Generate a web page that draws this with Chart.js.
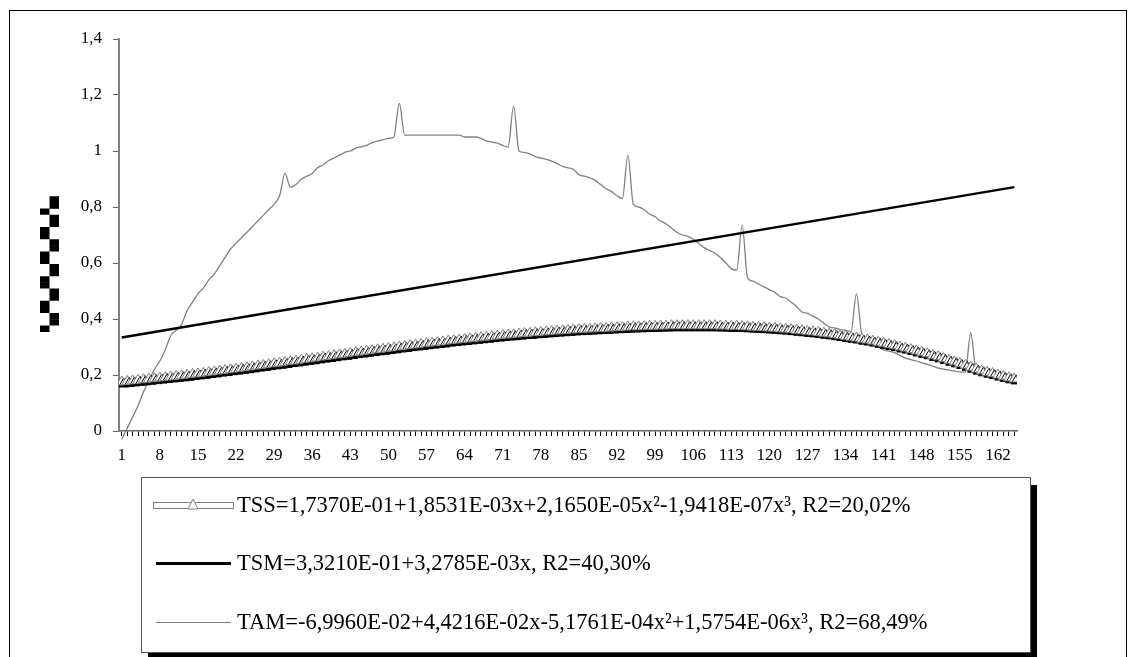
<!DOCTYPE html>
<html>
<head>
<meta charset="utf-8">
<script src="https://cdn.jsdelivr.net/npm/chart.js@4.4.1/dist/chart.umd.min.js"></script>
<style>
  body { margin: 0; background: #fff; }
  canvas { display: block; }
</style>
</head>
<body>
<canvas id="chart" width="1137" height="657"></canvas>
<script>
// values, one per day (1..165)
const tssValues = [
  0.175, 0.177, 0.179, 0.181, 0.183, 0.185, 0.187, 0.189, 0.191, 0.193,
  0.195, 0.197, 0.199, 0.202, 0.204, 0.206, 0.209, 0.211, 0.214, 0.216,
  0.219, 0.221, 0.224, 0.226, 0.229, 0.232, 0.234, 0.237, 0.240, 0.242,
  0.245, 0.248, 0.250, 0.253, 0.256, 0.258, 0.261, 0.264, 0.266, 0.269,
  0.272, 0.274, 0.277, 0.280, 0.282, 0.285, 0.287, 0.290, 0.292, 0.295,
  0.297, 0.300, 0.302, 0.305, 0.307, 0.309, 0.312, 0.314, 0.316, 0.318,
  0.321, 0.323, 0.325, 0.327, 0.329, 0.331, 0.333, 0.335, 0.337, 0.339,
  0.341, 0.343, 0.344, 0.346, 0.348, 0.349, 0.351, 0.352, 0.354, 0.355,
  0.357, 0.358, 0.359, 0.361, 0.362, 0.363, 0.364, 0.365, 0.366, 0.367,
  0.368, 0.369, 0.370, 0.371, 0.372, 0.372, 0.373, 0.374, 0.374, 0.375,
  0.375, 0.376, 0.376, 0.376, 0.376, 0.376, 0.376, 0.376, 0.376, 0.376,
  0.375, 0.375, 0.374, 0.374, 0.373, 0.372, 0.371, 0.370, 0.369, 0.368,
  0.367, 0.365, 0.364, 0.362, 0.360, 0.358, 0.356, 0.354, 0.352, 0.349,
  0.347, 0.344, 0.341, 0.338, 0.335, 0.332, 0.328, 0.325, 0.321, 0.317,
  0.313, 0.309, 0.305, 0.300, 0.296, 0.291, 0.286, 0.281, 0.276, 0.270,
  0.265, 0.259, 0.253, 0.247, 0.241, 0.235, 0.228, 0.221, 0.215, 0.210,
  0.205, 0.200, 0.195, 0.190, 0.186
];

// straight line, only its two ends are read
const tsmX = [1, 165];
const tsmValues = [0.334, 0.871];

const tamValues = [
  -0.03, 0.01, 0.05, 0.09, 0.14, 0.18, 0.22, 0.25, 0.29, 0.34,
  0.36, 0.38, 0.43, 0.46, 0.49, 0.51, 0.54, 0.56, 0.59, 0.62,
  0.65, 0.67, 0.69, 0.71, 0.73, 0.75, 0.77, 0.79, 0.81, 0.84,
  0.92, 0.87, 0.88, 0.90, 0.91, 0.92, 0.94, 0.95, 0.965, 0.975,
  0.985, 0.995, 1.0, 1.01, 1.015, 1.02, 1.03, 1.035, 1.04, 1.045,
  1.05, 1.17, 1.057, 1.057, 1.057, 1.057, 1.057, 1.057, 1.057, 1.057,
  1.057, 1.057, 1.057, 1.05, 1.05, 1.05, 1.045, 1.036, 1.032, 1.028,
  1.02, 1.014, 1.16, 1.0, 0.995, 0.99, 0.98, 0.975, 0.97, 0.964,
  0.955, 0.945, 0.94, 0.935, 0.915, 0.91, 0.904, 0.895, 0.88, 0.865,
  0.855, 0.84, 0.83, 0.985, 0.81, 0.80, 0.79, 0.775, 0.765, 0.75,
  0.74, 0.725, 0.71, 0.70, 0.695, 0.685, 0.67, 0.655, 0.645, 0.635,
  0.62, 0.60, 0.58, 0.575, 0.735, 0.546, 0.535, 0.525, 0.515, 0.505,
  0.495, 0.48, 0.475, 0.46, 0.445, 0.425, 0.42, 0.41, 0.40, 0.385,
  0.372, 0.368, 0.362, 0.36, 0.355, 0.49, 0.345, 0.33, 0.315, 0.30,
  0.29, 0.285, 0.28, 0.27, 0.26, 0.255, 0.25, 0.243, 0.238, 0.232,
  0.225, 0.221, 0.218, 0.214, 0.211, 0.21, 0.35, 0.215, 0.21, 0.205,
  0.20, 0.195, 0.19, 0.185, 0.18
];

const seriesNames = [
  'TSS=1,7370E-01+1,8531E-03x+2,1650E-05x²-1,9418E-07x³, R2=20,02%',
  'TSM=3,3210E-01+3,2785E-03x, R2=40,30%',
  'TAM=-6,9960E-02+4,4216E-02x-5,1761E-04x²+1,5754E-06x³, R2=68,49%'
];

const xTickLabels = [1, 8, 15, 22, 29, 36, 43, 50, 57, 64, 71, 78, 85, 92, 99,
  106, 113, 120, 127, 134, 141, 148, 155, 162];
const yTickLabels = ['0', '0,2', '0,4', '0,6', '0,8', '1', '1,2', '1,4'];
const yAxisTitle = '▚▞▚▞▚▞▚▞▚▞▄';

const SERIF = '"Liberation Serif", "Times New Roman", serif';

const toPoints = vals => vals.map((v, i) => ({ x: i + 1, y: v }));

// outer frame and white background
const framePlugin = {
  id: 'frame',
  beforeDraw(chart) {
    const ctx = chart.ctx;
    ctx.save();
    ctx.fillStyle = '#fff';
    ctx.fillRect(0, 0, chart.width, chart.height);
    ctx.strokeStyle = '#000';
    ctx.lineWidth = 1;
    ctx.strokeRect(9.5, 10.5, 1117, 700);
    ctx.restore();
  },
  afterDraw(chart) {
    // the y axis title (unreadable in the source)
    const ctx = chart.ctx;
    ctx.save();
    ctx.translate(51, 264);
    ctx.rotate(-Math.PI / 2);
    ctx.font = 'bold 16px "DejaVu Sans"';
    ctx.fillStyle = '#000';
    ctx.textAlign = 'center';
    ctx.textBaseline = 'middle';
    ctx.fillText(yAxisTitle, 0, 0);
    ctx.restore();
  }
};

// black drop shadow on the TSS markers, like the source
const shadowPlugin = {
  id: 'shadow',
  beforeDatasetDraw(chart, args) {
    if (args.index !== 0) return;
    const ctx = chart.ctx;
    ctx.save();
    ctx.shadowColor = '#000';
    ctx.shadowOffsetX = 2;
    ctx.shadowOffsetY = 2;
    ctx.shadowBlur = 0;
  },
  afterDatasetDraw(chart, args) {
    if (args.index !== 0) return;
    chart.ctx.restore();
  }
};

// boxed legend with a shadow below the plot
const legendPlugin = {
  id: 'boxLegend',
  afterDraw(chart) {
    const ctx = chart.ctx;
    const bx = 141, by = 477, bw = 889, bh = 175;
    ctx.save();
    ctx.fillStyle = '#000';
    ctx.fillRect(bx + 7, by + 8, bw, bh);
    ctx.fillStyle = '#fff';
    ctx.fillRect(bx, by, bw, bh);
    ctx.strokeStyle = '#555';
    ctx.lineWidth = 1;
    ctx.strokeRect(bx + 0.5, by + 0.5, bw, bh);

    const rows = [505, 563, 622];
    const ds = chart.data.datasets;
    // TSS sample: hollow bar with a triangle
    ctx.strokeStyle = '#808080';
    ctx.strokeRect(153.5, rows[0] - 2.5, 80, 6);
    ctx.beginPath();
    ctx.moveTo(193, rows[0] - 6);
    ctx.lineTo(198, rows[0] + 4);
    ctx.lineTo(188, rows[0] + 4);
    ctx.closePath();
    ctx.fillStyle = '#fff';
    ctx.fill();
    ctx.stroke();
    // TSM sample
    ctx.strokeStyle = ds[1].borderColor;
    ctx.lineWidth = 3;
    ctx.beginPath();
    ctx.moveTo(156, rows[1] + 0.5);
    ctx.lineTo(231, rows[1] + 0.5);
    ctx.stroke();
    // TAM sample
    ctx.strokeStyle = ds[2].borderColor;
    ctx.lineWidth = 1;
    ctx.beginPath();
    ctx.moveTo(156, rows[2] + 0.5);
    ctx.lineTo(231, rows[2] + 0.5);
    ctx.stroke();

    ctx.fillStyle = '#000';
    ctx.font = '22.5px ' + SERIF;
    ctx.textBaseline = 'middle';
    ds.forEach((d, i) => ctx.fillText(d.label, 237, rows[i] + 1));
    ctx.restore();
  }
};

new Chart(document.getElementById('chart'), {
  type: 'line',
  data: {
    datasets: [
      {
        label: seriesNames[0],
        data: toPoints(tssValues),
        borderColor: '#808080',
        borderWidth: 1,
        showLine: false,
        pointStyle: 'triangle',
        pointRadius: 6,
        pointBorderColor: '#808080',
        pointBackgroundColor: '#fff',
        pointBorderWidth: 1
      },
      {
        label: seriesNames[1],
        data: tsmX.map((x, i) => ({ x: x, y: tsmValues[i] })),
        borderColor: '#000',
        borderWidth: 2.5,
        pointRadius: 0
      },
      {
        label: seriesNames[2],
        data: toPoints(tamValues),
        borderColor: '#808080',
        borderWidth: 1.3,
        pointRadius: 0,
        cubicInterpolationMode: 'monotone',
        clip: false
      }
    ]
  },
  options: {
    responsive: false,
    animation: false,
    layout: { padding: { left: 0, top: 39, right: 120, bottom: 181 } },
    plugins: {
      legend: { display: false },
      tooltip: { enabled: false }
    },
    scales: {
      x: {
        type: 'linear',
        min: 0.5,
        max: 165.5,
        afterBuildTicks: s => {
          s.ticks = tssValues.map((v, i) => ({ value: i + 1 }));
        },
        afterFit: s => { s.height = 45; },
        ticks: {
          autoSkip: false,
          maxRotation: 0,
          padding: 9,
          color: '#000',
          font: { family: SERIF, size: 17 },
          callback: v => xTickLabels.includes(v) ? String(v) : ''
        },
        grid: { drawOnChartArea: false, tickLength: 5, color: '#000', lineWidth: 1 },
        border: { color: '#666', width: 1.5 }
      },
      y: {
        min: 0,
        max: 1.4,
        afterFit: s => { s.width = 119; },
        ticks: {
          stepSize: 0.2,
          padding: 11,
          color: '#000',
          font: { family: SERIF, size: 17 },
          callback: (v, i) => yTickLabels[i]
        },
        grid: { drawOnChartArea: false, tickLength: 6, color: '#666' },
        border: { color: '#808080', width: 2 }
      }
    }
  },
  plugins: [framePlugin, shadowPlugin, legendPlugin]
});
</script>
</body>
</html>
